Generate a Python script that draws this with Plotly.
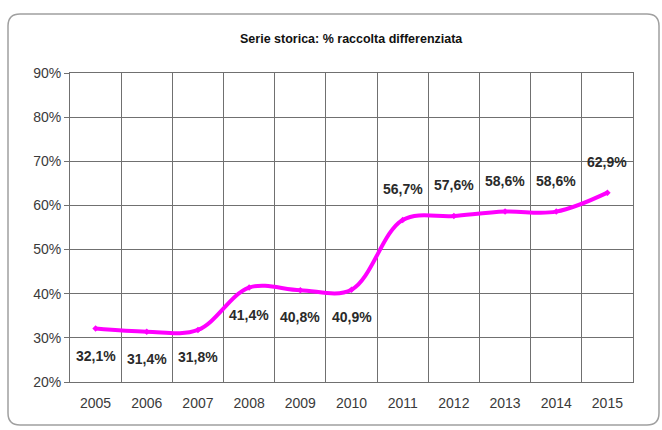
import plotly.graph_objects as go

years = ["2005", "2006", "2007", "2008", "2009", "2010", "2011", "2012", "2013", "2014", "2015"]
values = [32.1, 31.4, 31.8, 41.4, 40.8, 40.9, 56.7, 57.6, 58.6, 58.6, 62.9]
title_text = "Serie storica: % raccolta differenziata"
y_ticks = [20, 30, 40, 50, 60, 70, 80, 90]

MAGENTA = "#FF00FF"
GRID = "#707070"

fig = go.Figure()
fig.add_trace(go.Scatter(
    x=years, y=values, mode="lines+markers",
    line=dict(color=MAGENTA, width=4, shape="spline", smoothing=1),
    marker=dict(color=MAGENTA, size=5, symbol="diamond"),
    hoverinfo="skip", showlegend=False,
))

labels = [f"{v:.1f}".replace(".", ",") + "%" for v in values]
for i, (v, t) in enumerate(zip(values, labels)):
    below = i < 6
    fig.add_annotation(
        x=i, y=v, xref="x", yref="y", text=f"<b>{t}</b>", showarrow=False,
        yshift=-27 if below else 31,
        font=dict(family="Liberation Sans, Arial", size=14, color="#2a2a2a"),
    )

# plot area in px: x 70..633, y 73..382
L, R, T, B = 70, 633, 73, 382
W, H = 662, 430
def px(x):
    return (x - L) / (R - L)
def py(y):
    return (B - y) / (B - T)

x0, x1, y0, y1, r = 8, 659, 14, 425, 12
path = (f"M {px(x0 + r)} {py(y0)} L {px(x1 - r)} {py(y0)} Q {px(x1)} {py(y0)} {px(x1)} {py(y0 + r)} "
        f"L {px(x1)} {py(y1 - r)} Q {px(x1)} {py(y1)} {px(x1 - r)} {py(y1)} "
        f"L {px(x0 + r)} {py(y1)} Q {px(x0)} {py(y1)} {px(x0)} {py(y1 - r)} "
        f"L {px(x0)} {py(y0 + r)} Q {px(x0)} {py(y0)} {px(x0 + r)} {py(y0)} Z")
fig.add_shape(type="path", path=path, xref="paper", yref="paper",
              line=dict(color="#a0a0a0", width=1.5), layer="below")

fig.add_annotation(
    x=0.5, y=py(39), xref="paper", yref="paper", yanchor="middle", showarrow=False,
    text=f"<b>{title_text}</b>",
    font=dict(family="Liberation Sans, Arial", size=12.5, color="#111111"),
)

fig.update_layout(
    width=W, height=H,
    margin=dict(l=L, r=W - R, t=T, b=H - B, autoexpand=False),
    paper_bgcolor="white", plot_bgcolor="white",
    font=dict(family="Liberation Sans, Arial", size=14, color="#3a3a3a"),
)
fig.update_xaxes(
    type="category", range=[-0.5, 10.5], tickson="boundaries",
    showgrid=True, gridcolor=GRID, gridwidth=1,
    showline=True, linecolor=GRID, linewidth=1, mirror=True,
    ticks="", ticklabelstandoff=8, fixedrange=True,
)
fig.update_yaxes(
    range=[20, 90], tickvals=y_ticks, ticktext=[f"{v}%" for v in y_ticks],
    showgrid=True, gridcolor=GRID, gridwidth=1,
    showline=True, linecolor=GRID, linewidth=1, mirror=True,
    ticks="outside", ticklen=5, tickcolor=GRID, zeroline=False, fixedrange=True,
)

fig.write_html("out.html", config={"displayModeBar": False},
               post_script="document.body.style.margin='0';document.body.style.overflow='hidden';")
